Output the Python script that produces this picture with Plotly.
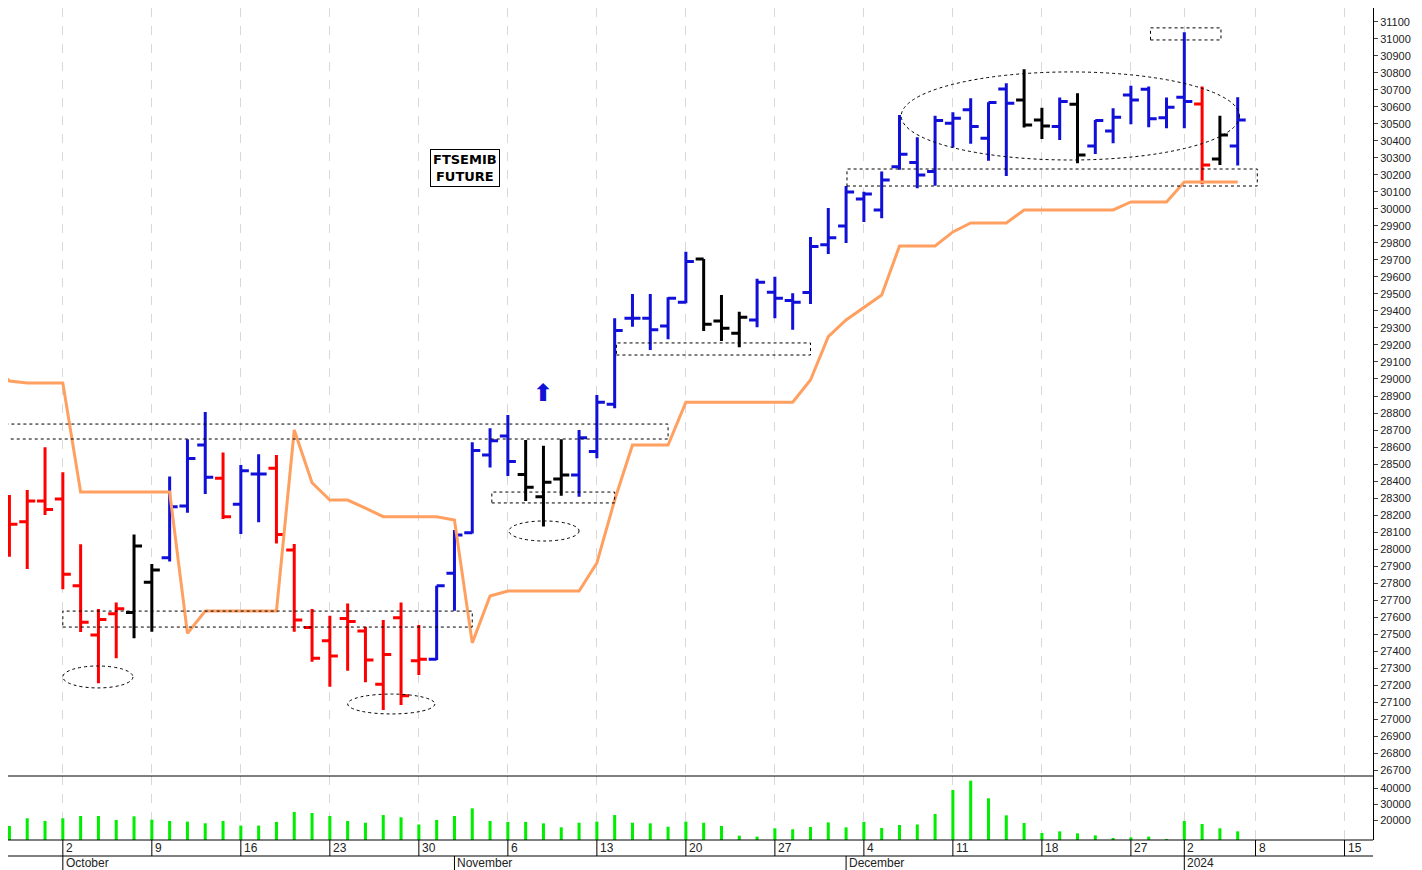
import plotly.graph_objects as go

# trading-day index 0 = 2023-09-27 ... 69 = 2024-01-05
opens = [28226,28161,28283,28294,27784,27494,27620,27626,27804,27949,28253,28612,28416,28263,28441,28475,27994,27539,27461,27592,
         27518,27204,27596,27343,27351,27857,28096,28553,28665,28439,28308,28412,28436,28573,28851,29357,29357,29312,29451,29706,
         29341,29269,29347,29510,29461,29508,29790,29900,30059,29994,30249,30273,30220,30504,30583,30416,30706,30641,30524,30485,
         30616,30371,30459,30671,30704,30537,30657,30618,30294,30371]
highs = [28318,28347,28598,28451,28028,27647,27686,28086,27912,28426,28645,28806,28567,28494,28557,28553,28030,27647,27608,27680,
         27543,27583,27686,27553,27784,28112,28628,28710,28788,28641,28608,28645,28700,28906,29357,29500,29500,29481,29749,29706,
         29494,29396,29589,29602,29504,29835,30006,30135,30102,30220,30553,30422,30549,30569,30651,30628,30739,30822,30596,30655,
         30681,30524,30592,30724,30720,30655,31039,30720,30549,30657]
lows = [27955,27882,28200,27763,27512,27210,27357,27475,27514,27926,28214,28324,28177,28088,28157,28033,27514,27337,27190,27284,
        27216,27053,27082,27259,27347,27637,28092,28479,28430,28283,28132,28314,28308,28534,28828,29308,29171,29234,29445,29283,
        29224,29187,29304,29357,29289,29441,29735,29800,29924,29945,30230,30122,30136,30361,30383,30284,30194,30479,30412,30406,
        30269,30324,30386,30498,30481,30475,30475,30145,30259,30255]
closes = [28145,28283,28233,27851,27569,27586,27649,28018,27877,28249,28533,28422,28190,28461,28441,28086,27582,27357,27371,27573,
          27347,27380,27137,27351,27784,28082,28579,28637,28514,28363,28392,28436,28655,28863,29285,29357,29289,29475,29691,29322,
          29298,29363,29569,29475,29451,29779,29830,30100,30088,30171,30322,30200,30520,30533,30485,30626,30622,30494,30488,30632,
          30318,30520,30539,30641,30530,30598,30632,30259,30435,30524]
colors = (["r"] * 7 + ["k"] * 2 + ["b"] * 3 + ["r"] + ["b"] * 2 + ["r"] * 9 + ["b"] * 5 + ["k"] * 3 + ["b"] * 7
          + ["k"] * 3 + ["b"] * 15 + ["k"] * 2 + ["b"] + ["k"] + ["b"] * 6 + ["r"] + ["k"] + ["b"])
stop_line = [28988,28976,28976,28976,28335,28335,28335,28335,28335,28335,27504,27635,27635,27635,27635,27635,28700,28390,28288,28288,
             28240,28190,28190,28190,28190,28170,27448,27724,27753,27753,27753,27753,27753,27918,28288,28612,28612,28612,28863,28863,
             28863,28863,28863,28863,28863,28994,29249,29347,29418,29494,29782,29782,29782,29865,29918,29918,29918,29994,29994,29994,
             29994,29994,29994,30041,30041,30041,30159,30159,30159,30159]
volume = [16250,21060,19400,21060,22500,22500,20000,22300,20200,19400,19000,17950,19400,16500,16500,18800,25000,24400,22500,19400,
          18300,23100,21700,17200,20000,22500,27300,19400,18800,18800,17900,15400,18300,19000,23100,18300,17900,15800,19000,18300,
          16250,10200,9600,14800,14200,15600,18500,15400,18800,15000,16900,17200,23750,38750,44600,33550,22900,18100,11900,12900,
          11650,10400,8750,9150,9600,8100,19400,17500,14800,12900]
day_ticks = [3, 8, 13, 18, 23, 28, 33, 38, 43, 48, 53, 58, 63, 66, 70, 75]
day_labels = ["2", "9", "16", "23", "30", "6", "13", "20", "27", "4", "11", "18", "27", "2", "8", "15"]
month_pos = [3, 25, 47, 66]
month_labels = ["October", "November", "December", "2024"]
price_ticks = list(range(26700, 31101, 100))
vol_ticks = [20000, 30000, 40000]
n = len(opens)
idx = list(range(n))

PH = 832.0  # plot-area height in px (page body adds an 8px offset)

fig = go.Figure()
cmap = {"b": "#1010d8", "r": "#ff0000", "k": "#000000"}
for c, col in cmap.items():
    sel = [i for i in idx if colors[i] == c]
    fig.add_trace(go.Ohlc(x=sel, open=[opens[i] for i in sel], high=[highs[i] for i in sel],
                          low=[lows[i] for i in sel], close=[closes[i] for i in sel],
                          increasing=dict(line=dict(color=col, width=3)),
                          decreasing=dict(line=dict(color=col, width=3)),
                          tickwidth=0.45, showlegend=False, hoverinfo="skip", xaxis="x", yaxis="y"))
fig.add_trace(go.Scatter(x=[-0.6] + idx, y=[29053] + stop_line, mode="lines",
                         line=dict(color="#ffa060", width=3), showlegend=False, hoverinfo="skip", cliponaxis=True))
fig.add_trace(go.Bar(x=idx, y=volume, marker=dict(color="#00ee00", line_width=0), width=0.17,
                     xaxis="x2", yaxis="y2", showlegend=False, hoverinfo="skip"))

dot = dict(color="black", width=1, dash="dot")
rects = [(-0.6, 37.0, 28647, 28735), (3, 26.0, 27541, 27635), (27.1, 34.0, 28271, 28335),
         (34.1, 45.0, 29141, 29212), (47.05, 70.1, 30135, 30235), (64.1, 68.06, 30994, 31065)]
for x0, x1, y0, y1 in rects:
    fig.add_shape(type="rect", x0=x0, x1=x1, y0=y0, y1=y1, line=dot, xref="x", yref="y")
ells = [(3, 6.94, 27183, 27312), (19, 23.9, 27030, 27147), (28.06, 32, 28047, 28165), (50.1, 69.1, 30288, 30806)]
for x0, x1, y0, y1 in ells:
    fig.add_shape(type="circle", x0=x0, x1=x1, y0=y0, y1=y1, line=dot, xref="x", yref="y")

fig.add_annotation(x=30, y=28920, text="<b>⬆</b>", showarrow=False, xref="x", yref="y",
                   font=dict(family="DejaVu Sans", size=24, color="#1010d8"))
fig.add_annotation(x=25.6, y=30241, text="<b>FTSEMIB<br>FUTURE</b>", showarrow=False,
                   font=dict(family="DejaVu Sans", size=13, color="black"),
                   bordercolor="black", borderwidth=1, borderpad=2, bgcolor="white")

# date labels
for t, lab in zip(day_ticks, day_labels):
    fig.add_annotation(x=t, y=0, yref="paper", xref="x", text=lab, showarrow=False,
                       xanchor="left", yanchor="top", xshift=1, yshift=1,
                       font=dict(family="Liberation Sans", size=12, color="#222"))
    fig.add_shape(type="line", x0=t, x1=t, y0=0, y1=-16/PH, xref="x", yref="paper", line=dict(color="black", width=1))
for t, lab in zip(month_pos, month_labels):
    fig.add_annotation(x=t, y=-16/PH, yref="paper", xref="x", text=lab, showarrow=False,
                       xanchor="left", yanchor="top", xshift=1, yshift=2,
                       font=dict(family="Liberation Sans", size=12, color="#222"))
    fig.add_shape(type="line", x0=t, x1=t, y0=-16/PH, y1=-30/PH, xref="x", yref="paper", line=dict(color="black", width=1))
for yy in [0, -16/PH, 64/PH]:
    fig.add_shape(type="line", x0=0, x1=1, y0=yy, y1=yy, xref="paper", yref="paper", line=dict(color="black", width=1))

xr = [-0.08, 76.6]
fig.update_layout(
    width=1422, height=870, margin=dict(l=0, r=57, t=0, b=38, pad=0, autoexpand=False),
    paper_bgcolor="white", plot_bgcolor="white",
    xaxis=dict(range=xr, domain=[0, 1], anchor="y", tickvals=day_ticks, showticklabels=False,
               showgrid=True, gridcolor="#d8d8d8", griddash="dash", zeroline=False,
               rangeslider=dict(visible=False), ticks=""),
    xaxis2=dict(range=xr, domain=[0, 1], anchor="y2", tickvals=day_ticks, showticklabels=False,
                showgrid=True, gridcolor="#d8d8d8", griddash="dash", zeroline=False, ticks="", matches="x"),
    yaxis=dict(domain=[64/PH, 1], range=[26665, 31182], side="right", tickvals=price_ticks,
               ticktext=[str(v) for v in price_ticks],
               showgrid=False, zeroline=False, ticks="outside", ticklen=4,
               tickfont=dict(family="Liberation Sans", size=11, color="#222"), showline=True, linecolor="black"),
    yaxis2=dict(domain=[0, 64/PH], range=[7500, 47500], side="right", tickvals=vol_ticks,
                ticktext=[str(v) for v in vol_ticks],
                showgrid=False, zeroline=False, ticks="outside", ticklen=4,
                tickfont=dict(family="Liberation Sans", size=11, color="#222"), showline=True, linecolor="black"),
)
fig.write_html("out.html")
